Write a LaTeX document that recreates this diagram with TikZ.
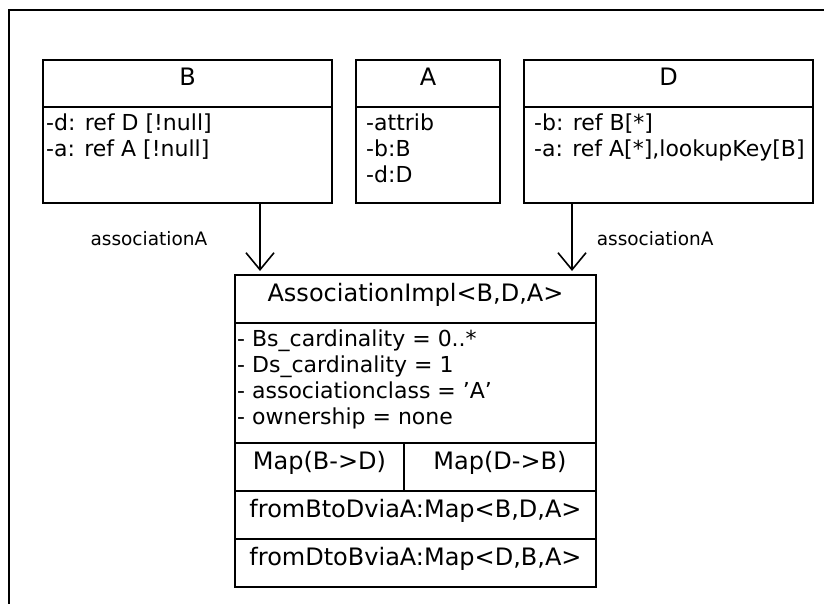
\documentclass[tikz,border=0pt]{standalone}
\usepackage{fontspec}
\setmainfont{DejaVu Sans}
\usetikzlibrary{arrows.meta,positioning}

\begin{document}
\begin{tikzpicture}[x=1pt,y=-1pt,
	box/.style={draw,line width=1.6pt,inner sep=0pt,outer sep=0pt},
	namebox/.style={box,font=\fontsize{24}{28}\selectfont,text height=17pt,text depth=13pt},
	attrtext/.style={inner sep=0pt,align=left,font=\fontsize{22}{26}\selectfont},
	assoc/.style={line width=1.6pt,-{Straight Barb[length=17pt,width=28pt]},shorten >=4pt},
	role/.style={inner sep=0pt,font=\fontsize{18.5}{22}\selectfont}]
	\useasboundingbox (0,0) rectangle (824,604);
	\draw[line width=2pt] (9,604) -- (9,10) -- (824,10);
	% class B
	\node[namebox,minimum width=289,minimum height=47] (Bname) at (187.5,83.5) {B};
	\node[box,minimum width=289,minimum height=96,below=0pt of Bname] (Battrs) {};
	\node[attrtext,anchor=north west,xshift=3pt] (Btext) at (Battrs.north west)
		{\rule{0pt}{23pt}-d: ref D [!null]\\-a: ref A [!null]};
	% class A
	\node[namebox,minimum width=144,minimum height=47,right=24pt of Bname] (Aname) {A};
	\node[box,minimum width=144,minimum height=96,below=0pt of Aname] (Aattrs) {};
	\node[attrtext,anchor=north west,xshift=10pt] (Atext) at (Aattrs.north west)
		{\rule{0pt}{23pt}-attrib\\-b:B\\-d:D};
	% class D
	\node[namebox,minimum width=289,minimum height=47,right=24pt of Aname] (Dname) {D};
	\node[box,minimum width=289,minimum height=96,below=0pt of Dname] (Dattrs) {};
	\node[attrtext,anchor=north west,xshift=10pt] (Dtext) at (Dattrs.north west)
		{\rule{0pt}{23pt}-b: ref B[*]\\-a: ref A[*],lookupKey[B]};
	% the association implementation
	\node[namebox,minimum width=361,minimum height=48] (Impl) at (415.5,299) {AssociationImpl<B,D,A>};
	\node[box,minimum width=361,minimum height=120,below=0pt of Impl] (Implattrs) {};
	\node[attrtext,anchor=north west,xshift=2pt] (Impltext) at (Implattrs.north west)
		{\rule{0pt}{23pt}- Bs\_cardinality = 0..*\\- Ds\_cardinality = 1\\- associationclass = 'A'\\- ownership = none};
	\node[namebox,minimum width=169,minimum height=48,anchor=north west] (MapBD) at (Implattrs.south west) {Map(B->D)};
	\node[namebox,minimum width=192,minimum height=48,right=0pt of MapBD] (MapDB) {Map(D->B)};
	\node[namebox,minimum width=361,minimum height=48,anchor=north west] (viaBD) at (MapBD.south west) {fromBtoDviaA:Map<B,D,A>};
	\node[namebox,minimum width=361,minimum height=48,below=0pt of viaBD] (viaDB) {fromDtoBviaA:Map<D,B,A>};
	% associations
	\coordinate (Bfoot) at ([xshift=72.5pt]Battrs.south);
	\coordinate (Dfoot) at ([xshift=-96.5pt]Dattrs.south);
	\draw[assoc] (Bfoot) -- (Bfoot |- Impl.north) node[role,midway,left=52pt] (Brole) {associationA};
	\draw[assoc] (Dfoot) -- (Dfoot |- Impl.north) node[role,midway,right=24pt] (Drole) {associationA};
\end{tikzpicture}
\end{document}
